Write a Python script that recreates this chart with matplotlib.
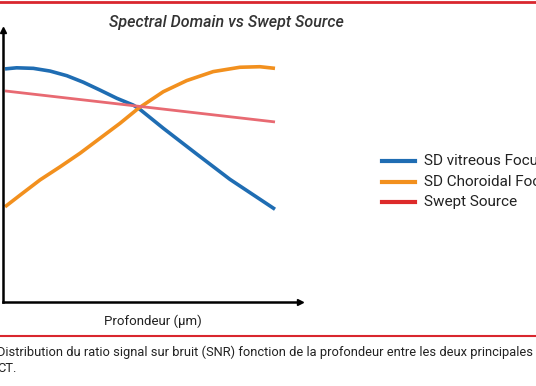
import matplotlib
matplotlib.use("Agg")
import matplotlib.pyplot as plt
from matplotlib.lines import Line2D

# Data (arbitrary units: depth 0-100, SNR 0-100)
depth_blue = [0, 4.3, 10.5, 16.7, 22.9, 29.0, 35.2, 41.4, 47.5, 50.0, 58.6, 71.0, 83.3, 100]
snr_blue = [85.7, 86.1, 85.9, 84.9, 83.2, 80.8, 77.9, 74.9, 72.4, 70.8, 63.9, 54.4, 45.1, 34.1]
depth_orange = [0, 5.6, 13.0, 20.4, 27.8, 35.2, 42.6, 49.4, 58.6, 67.3, 77.1, 87.0, 94.4, 100]
snr_orange = [35.0, 39.3, 44.9, 49.7, 54.7, 60.2, 65.7, 71.2, 77.3, 81.4, 84.7, 86.3, 86.5, 85.9]
depth_red = [0, 100]
snr_red = [77.6, 66.2]

labels = ["SD vitreous Focus", "SD Choroidal Focus", "Swept Source"]
title = "Spectral Domain vs Swept Source"
xlabel = "Profondeur (µm)"
caption1 = "Distribution du ratio signal sur bruit (SNR) fonction de la profondeur entre les deux principales"
caption2 = "CT."

W, H = 536, 386
fig = plt.figure(figsize=(W / 100, H / 100), dpi=100)
plt.rcParams['font.family'] = ['Roboto', 'DejaVu Sans']

# axes placement in pixels
x0, x1 = 3, 300
ytop, ybot = 30, 302
ax = fig.add_axes([x0 / W, (H - ybot) / H, (x1 - x0) / W, (ybot - ytop) / H])
sx = 2.7
ax.set_xlim((x0 - 5) / sx, (x1 - 5) / sx)
ax.set_ylim(0, (ybot - ytop) / 2.72)

blue = "#1f6db3"
orange = "#f2901e"
red_line = "#e86a72"
red_leg = "#dd2a2a"

ax.plot(depth_blue, snr_blue, color=blue, lw=2.6, solid_capstyle='butt', solid_joinstyle='round')
ax.plot(depth_orange, snr_orange, color=orange, lw=2.6, solid_capstyle='butt', solid_joinstyle='round')
ax.plot(depth_red, snr_red, color=red_line, lw=2.0, solid_capstyle='butt')

for s in ["top", "right"]:
    ax.spines[s].set_visible(False)
ax.spines["left"].set_linewidth(1.8)
ax.spines["bottom"].set_linewidth(1.8)
ax.set_xticks([])
ax.set_yticks([])
ax.plot(1, 0, ">k", transform=ax.transAxes, clip_on=False, ms=5)
ax.plot(0, 1, "^k", transform=ax.transAxes, clip_on=False, ms=5)

fig.text(226 / W, 1 - 22 / H, title, ha="center", va="center", fontsize=11.5,
         style="italic", fontweight="medium", color="#333333")
fig.text(153 / W, 1 - 321 / H, xlabel, ha="center", va="center", fontsize=9.5, color="#222222")

leg_colors = [blue, orange, red_leg]
for i, (c, lab) in enumerate(zip(leg_colors, labels)):
    yy = 1 - [161, 182, 202][i] / H
    fig.add_artist(Line2D([382 / W, 415 / W], [yy, yy], color=c, lw=3,
                          transform=fig.transFigure))
    fig.text(424 / W, yy, lab, ha="left", va="center", fontsize=11, color="#222222")

# red rules
fig.add_artist(Line2D([0, 1], [1 - 1.5 / H, 1 - 1.5 / H], color="#d9262e", lw=2,
                      transform=fig.transFigure))
fig.add_artist(Line2D([0, 1], [1 - 336 / H, 1 - 336 / H], color="#d9262e", lw=1.5,
                      transform=fig.transFigure))

fig.text(-3 / W, 1 - 352 / H, caption1, ha="left", va="center", fontsize=9.3, color="#222222")
fig.text(-3 / W, 1 - 368 / H, caption2, ha="left", va="center", fontsize=9.3, color="#222222")

fig.savefig("out.png", dpi=100)
